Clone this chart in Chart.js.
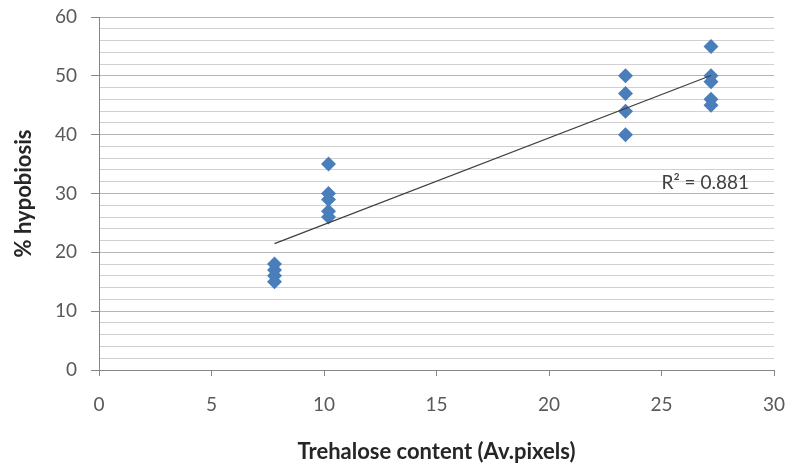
<!DOCTYPE html>
<html>
<head>
<meta charset="utf-8">
<script src="https://cdn.jsdelivr.net/npm/chart.js@4.4.0/dist/chart.umd.min.js"></script>
<style>
  html, body { margin: 0; padding: 0; background: #fff; }
  #wrap { width: 792px; height: 465px; }
</style>
</head>
<body>
<div id="wrap"><canvas id="chart" width="792" height="465"></canvas></div>
<script>
// data
const trehalose = [7.8, 7.8, 7.8, 7.8, 10.2, 10.2, 10.2, 10.2, 10.2, 23.4, 23.4, 23.4, 23.4, 27.2, 27.2, 27.2, 27.2, 27.2];
const hypobiosis = [15, 16, 17, 18, 35, 30, 29, 27, 26, 50, 47, 44, 40, 55, 50, 49, 46, 45];
const xTicks = [0, 5, 10, 15, 20, 25, 30];
const yTicks = [0, 10, 20, 30, 40, 50, 60];
const r2Label = 'R² = 0.881';
const r2Pos = { x: 25.0, y: 31.8 };

const FONT = 'Lato, "Open Sans", sans-serif';

const points = trehalose.map((x, i) => ({ x: x, y: hypobiosis[i] }));

// least squares fit for the trendline
function linearFit(xs, ys) {
  const n = xs.length;
  const mx = xs.reduce((a, b) => a + b, 0) / n;
  const my = ys.reduce((a, b) => a + b, 0) / n;
  let sxy = 0, sxx = 0;
  for (let i = 0; i < n; i++) {
    sxy += (xs[i] - mx) * (ys[i] - my);
    sxx += (xs[i] - mx) * (xs[i] - mx);
  }
  const slope = sxy / sxx;
  return { slope: slope, intercept: my - slope * mx };
}
const fit = linearFit(trehalose, hypobiosis);
const xMin = Math.min(...trehalose);
const xMax = Math.max(...trehalose);
const trend = [xMin, xMax].map(x => ({ x: x, y: fit.intercept + fit.slope * x }));

// R² label next to the trendline
const r2Plugin = {
  id: 'r2Label',
  afterDatasetsDraw(chart) {
    const { ctx, scales } = chart;
    ctx.save();
    ctx.font = '19px ' + FONT;
    ctx.fillStyle = '#404040';
    ctx.textAlign = 'left';
    ctx.textBaseline = 'middle';
    ctx.fillText(r2Label, scales.x.getPixelForValue(r2Pos.x), scales.y.getPixelForValue(r2Pos.y));
    ctx.restore();
  }
};

const ctx = document.getElementById('chart').getContext('2d');
new Chart(ctx, {
  type: 'scatter',
  data: {
    datasets: [
      {
        data: points,
        pointStyle: 'rectRot',
        pointRadius: 7.5,
        backgroundColor: '#4a7ebb',
        borderColor: '#4a7ebb',
        borderWidth: 0,
        order: 1
      },
      {
        type: 'line',
        data: trend,
        borderColor: '#404040',
        borderWidth: 1.3,
        pointRadius: 0,
        fill: false,
        order: 0
      }
    ]
  },
  options: {
    responsive: false,
    animation: false,
    layout: { padding: { top: 17, right: 18, left: 0, bottom: 0 } },
    plugins: {
      legend: { display: false },
      tooltip: { enabled: false }
    },
    scales: {
      x: {
        type: 'linear',
        min: xTicks[0],
        max: xTicks[xTicks.length - 1],
        afterFit: s => { s.height = 95; s.paddingLeft = 0; s.paddingRight = 0; },
        afterBuildTicks: s => { s.ticks = xTicks.map(v => ({ value: v })); },
        ticks: { color: '#595959', font: { family: FONT, size: 19 }, padding: 17, maxRotation: 0, autoSkip: false },
        grid: { drawOnChartArea: false, drawTicks: true, tickLength: 6, tickColor: '#868686' },
        border: { color: '#868686', width: 1 },
        title: {
          display: true,
          text: 'Trehalose content (Av.pixels)',
          color: '#262626',
          font: { family: FONT, size: 22, weight: 'bold' },
          padding: { top: 0, bottom: 0 }
        }
      },
      y: {
        min: yTicks[0],
        max: yTicks[yTicks.length - 1],
        afterFit: s => { s.width = 99; s.paddingTop = 0; s.paddingBottom = 0; },
        ticks: {
          stepSize: 2,
          autoSkip: false,
          color: '#595959',
          font: { family: FONT, size: 19 },
          padding: 14,
          callback: v => (yTicks.includes(v) ? v : '')
        },
        grid: {
          color: c => (yTicks.includes(c.tick.value) ? '#b4b4b4' : '#d0d0d0'),
          lineWidth: 1,
          tickLength: 8,
          tickColor: c => (yTicks.includes(c.tick.value) ? '#868686' : 'rgba(0,0,0,0)')
        },
        border: { color: '#868686', width: 1 },
        title: {
          display: true,
          text: '% hypobiosis',
          color: '#262626',
          font: { family: FONT, size: 22, weight: 'bold' },
          padding: { top: 11, bottom: 0 }
        }
      }
    }
  },
  plugins: [r2Plugin]
});
</script>
</body>
</html>
